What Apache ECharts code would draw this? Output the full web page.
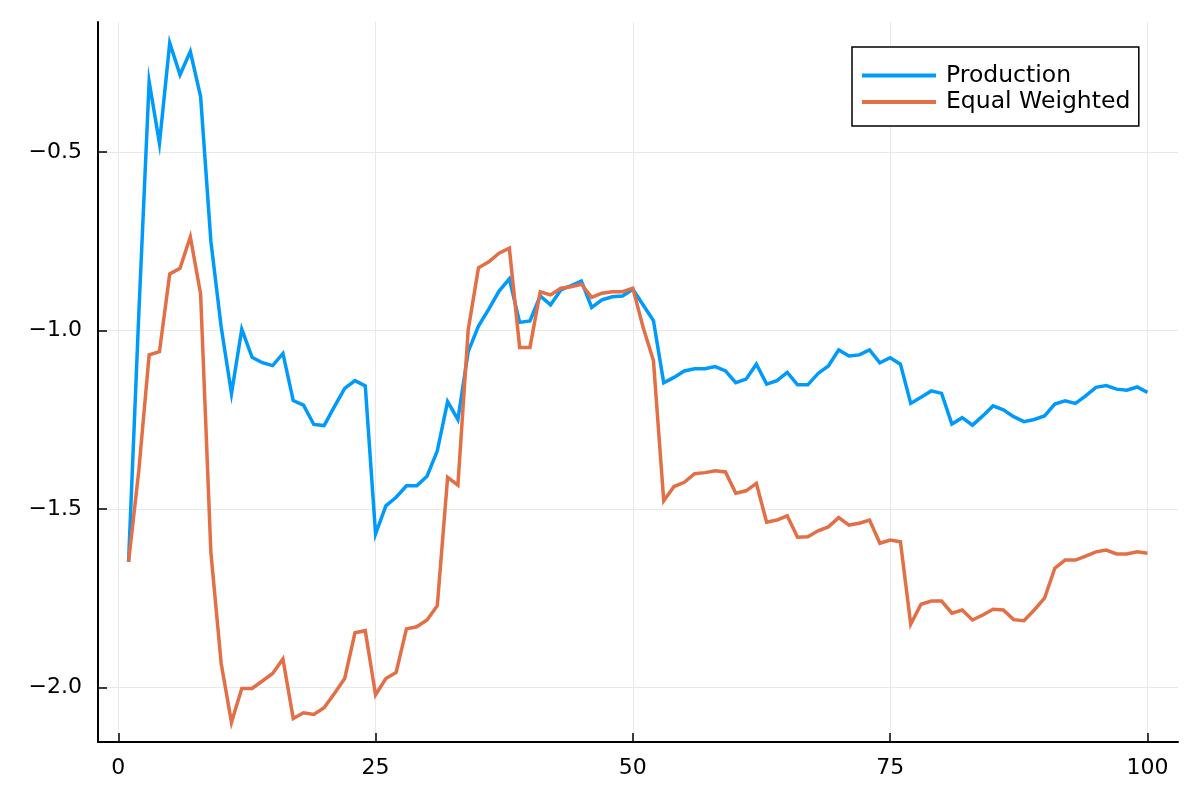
<!DOCTYPE html>
<html>
<head>
<meta charset="utf-8">
<script src="https://cdn.jsdelivr.net/npm/echarts@6/dist/echarts.min.js"></script>
<style>
html, body { margin: 0; padding: 0; background: #ffffff; }
#chart { width: 1200px; height: 800px; }
</style>
</head>
<body>
<div id="chart"></div>
<script>
const steps = [1,2,3,4,5,6,7,8,9,10,11,12,13,14,15,16,17,18,19,20,21,22,23,24,25,26,27,28,29,30,31,32,33,34,35,36,37,38,39,40,41,42,43,44,45,46,47,48,49,50,51,52,53,54,55,56,57,58,59,60,61,62,63,64,65,66,67,68,69,70,71,72,73,74,75,76,77,78,79,80,81,82,83,84,85,86,87,88,89,90,91,92,93,94,95,96,97,98,99,100];

const production = [
  -1.648, -0.950, -0.302, -0.475, -0.194, -0.283, -0.218, -0.344, -0.750, -0.990,
  -1.176, -0.996, -1.075, -1.090, -1.098, -1.064, -1.196, -1.209, -1.263, -1.266,
  -1.213, -1.162, -1.140, -1.155, -1.570, -1.491, -1.467, -1.435, -1.435, -1.408,
  -1.337, -1.199, -1.249, -1.059, -0.987, -0.940, -0.889, -0.855, -0.977, -0.973,
  -0.903, -0.928, -0.886, -0.874, -0.861, -0.935, -0.914, -0.905, -0.903, -0.884,
  -0.928, -0.972, -1.146, -1.131, -1.113, -1.107, -1.107, -1.101, -1.113, -1.146,
  -1.136, -1.094, -1.150, -1.140, -1.117, -1.152, -1.152, -1.120, -1.099, -1.054,
  -1.071, -1.068, -1.054, -1.090, -1.076, -1.094, -1.204, -1.187, -1.169, -1.176,
  -1.262, -1.244, -1.265, -1.239, -1.211, -1.222, -1.241, -1.255, -1.249, -1.239,
  -1.206, -1.197, -1.204, -1.183, -1.159, -1.154, -1.164, -1.167, -1.158, -1.173
];

const equalWeighted = [
  -1.648, -1.391, -1.068, -1.059, -0.841, -0.825, -0.737, -0.897, -1.622, -1.933,
  -2.098, -2.003, -2.003, -1.982, -1.961, -1.920, -2.087, -2.071, -2.076, -2.057,
  -2.017, -1.975, -1.847, -1.841, -2.021, -1.975, -1.958, -1.836, -1.830, -1.811,
  -1.771, -1.411, -1.433, -0.998, -0.824, -0.807, -0.783, -0.769, -1.047, -1.047,
  -0.891, -0.900, -0.881, -0.877, -0.870, -0.907, -0.895, -0.891, -0.891, -0.881,
  -0.991, -1.084, -1.477, -1.437, -1.425, -1.401, -1.398, -1.393, -1.396, -1.456,
  -1.449, -1.428, -1.537, -1.531, -1.519, -1.579, -1.578, -1.561, -1.550, -1.524,
  -1.545, -1.540, -1.531, -1.596, -1.587, -1.592, -1.823, -1.767, -1.758, -1.758,
  -1.792, -1.783, -1.811, -1.797, -1.781, -1.783, -1.810, -1.813, -1.783, -1.750,
  -1.666, -1.643, -1.643, -1.632, -1.620, -1.615, -1.626, -1.626, -1.620, -1.624
];

const seriesNames = ['Production', 'Equal Weighted'];
const xTicks = [0, 25, 50, 75, 100];
const yTicks = [-2.0, -1.5, -1.0, -0.5];

const FONT = 'DejaVu Sans';
const chart = echarts.init(document.getElementById('chart'), null, { renderer: 'canvas' });

function fmtY(v) {
  const s = Math.abs(v).toFixed(1);
  return (v < 0 ? '\u2212' : '') + s;
}

const option = {
  animation: false,
  backgroundColor: '#ffffff',
  grid: { left: 98, right: 22, top: 22, bottom: 58, containLabel: false },
  xAxis: {
    type: 'value',
    min: -1.97,
    max: 102.97,
    axisLine: { show: true, onZero: false, lineStyle: { color: '#000000', width: 2 } },
    axisTick: { show: true, inside: true, length: 9, customValues: xTicks, lineStyle: { color: '#000000', width: 1.5 } },
    axisLabel: { show: true, customValues: xTicks, margin: 15, color: '#000000', fontFamily: FONT, fontSize: 22,
      formatter: v => String(Math.round(v)) },
    splitLine: { show: true, lineStyle: { color: '#e8e8e8', width: 1 } }
  },
  yAxis: {
    type: 'value',
    min: -2.153,
    max: -0.135,
    axisLine: { show: true, onZero: false, lineStyle: { color: '#000000', width: 2 } },
    axisTick: { show: true, inside: true, length: 9, customValues: yTicks, lineStyle: { color: '#000000', width: 1.5 } },
    axisLabel: { show: true, customValues: yTicks, margin: 16, color: '#000000', fontFamily: FONT, fontSize: 22,
      padding: [5, 0, 0, 0], formatter: fmtY },
    splitLine: { show: true, lineStyle: { color: '#e8e8e8', width: 1 } }
  },
  legend: {
    show: true,
    orient: 'vertical',
    left: 852,
    top: 47,
    data: seriesNames,
    icon: 'rect',
    itemWidth: 74,
    itemHeight: 4,
    itemGap: 0.5,
    padding: [15.5, 8.5, 11, 10],
    borderColor: '#000000',
    borderWidth: 1.5,
    borderRadius: 0,
    backgroundColor: '#ffffff',
    textStyle: { fontFamily: FONT, fontSize: 23.5, color: '#000000', lineHeight: 26, padding: [0, 0, 0, 5] }
  },
  series: [
    {
      name: seriesNames[0],
      type: 'line',
      data: steps.map((s, i) => [s, production[i]]),
      showSymbol: false,
      symbol: 'none',
      color: '#009AFA',
      lineStyle: { color: '#009AFA', width: 3.5, join: 'miter' },
      z: 2
    },
    {
      name: seriesNames[1],
      type: 'line',
      data: steps.map((s, i) => [s, equalWeighted[i]]),
      showSymbol: false,
      symbol: 'none',
      color: '#E36F47',
      lineStyle: { color: '#E36F47', width: 3.5, join: 'miter' },
      z: 3
    }
  ]
};

chart.setOption(option);
</script>
</body>
</html>
